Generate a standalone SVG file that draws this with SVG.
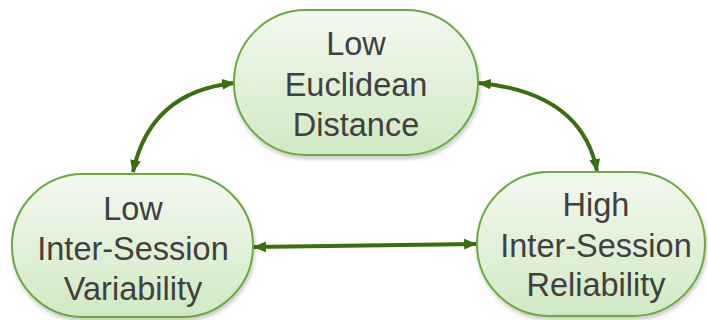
<svg xmlns="http://www.w3.org/2000/svg" width="708" height="320" viewBox="0 0 708 320">
<defs>
<linearGradient id="g" x1="0" y1="0" x2="0" y2="1">
<stop offset="0" stop-color="#f3f9f0"/>
<stop offset="1" stop-color="#d0e9c4"/>
</linearGradient>
<filter id="sh" x="-10%" y="-10%" width="120%" height="130%">
<feGaussianBlur in="SourceAlpha" stdDeviation="2"/>
<feOffset dx="1" dy="3"/>
<feComponentTransfer><feFuncA type="linear" slope="0.22"/></feComponentTransfer>
<feMerge><feMergeNode/><feMergeNode in="SourceGraphic"/></feMerge>
</filter>
<marker id="ah" viewBox="0 0 12 10" refX="11" refY="5" markerWidth="13" markerHeight="11" markerUnits="userSpaceOnUse" orient="auto-start-reverse">
<path d="M0,0 L12,5 L0,10 Z" fill="#3b6e12"/>
</marker>
</defs>
<style>
.node{fill:url(#g);stroke:#6aa83f;stroke-width:2;filter:url(#sh)}
.t{font-family:"Liberation Sans",Arial,sans-serif;font-size:32.5px;fill:#404040;text-anchor:middle}
.c{fill:none;stroke:#3b6e12;stroke-width:4;marker-start:url(#ah);marker-end:url(#ah)}
</style>
<g id="connectors">
<path class="c" d="M133,172 Q150,92 234,83"/>
<path class="c" d="M479,83 Q582,93 597,171"/>
<path class="c" d="M254,247 L476,244"/>
</g>
<g id="node-euclidean">
<rect class="node" x="234" y="10" width="244" height="145" rx="72" ry="72"/>
<text class="t" x="356" y="55">Low</text>
<text class="t" x="356" y="96">Euclidean</text>
<text class="t" x="356" y="136">Distance</text>
</g>
<g id="node-variability">
<rect class="node" x="12" y="174" width="241" height="143" rx="71" ry="71"/>
<text class="t" x="133" y="220">Low</text>
<text class="t" x="133" y="260">Inter-Session</text>
<text class="t" x="133" y="300">Variability</text>
</g>
<g id="node-reliability">
<rect class="node" x="477" y="172" width="228" height="144" rx="72" ry="72"/>
<text class="t" x="596" y="216">High</text>
<text class="t" x="596" y="257">Inter-Session</text>
<text class="t" x="596" y="296">Reliability</text>
</g>
</svg>
